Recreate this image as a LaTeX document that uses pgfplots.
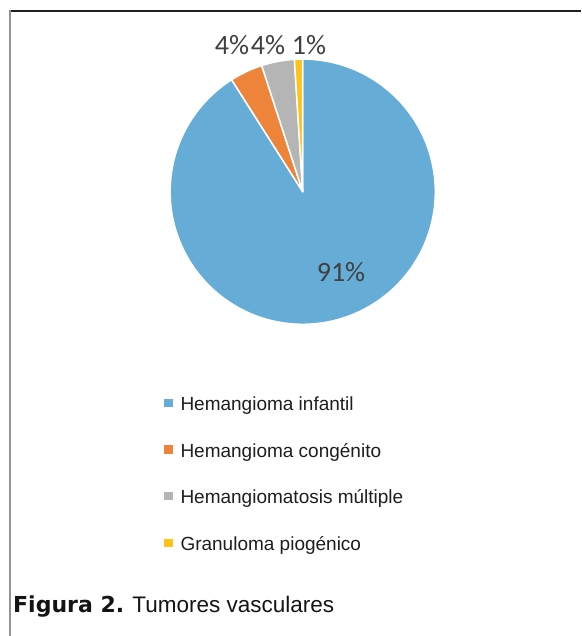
\documentclass[border=0pt]{standalone}
\usepackage{pgfplots}
\pgfplotsset{compat=1.18}
\usepackage{pgfplotstable}
\usepackage{fontspec}
\setmainfont{Liberation Sans}
\newfontfamily\carlito{Carlito}
\newfontfamily\dejavu{DejaVu Sans}
\definecolor{cblue}{HTML}{65ACD7}
\definecolor{corange}{HTML}{EE843A}
\definecolor{cgrey}{HTML}{B5B5B5}
\definecolor{cyellow}{HTML}{FFC21A}
\definecolor{labtxt}{HTML}{404040}
\definecolor{legtxt}{HTML}{1E1E1E}

\pgfplotstableread{
value
91
4
4
1
}\piedata

\begin{document}%
\begin{tikzpicture}[x=1pt,y=1pt]
\pgfplotstablegetelem{0}{value}\of\piedata \let\vA\pgfplotsretval
\pgfplotstablegetelem{1}{value}\of\piedata \let\vB\pgfplotsretval
\pgfplotstablegetelem{2}{value}\of\piedata \let\vC\pgfplotsretval
\pgfplotstablegetelem{3}{value}\of\piedata \let\vD\pgfplotsretval
\pgfmathsetmacro\total{\vA+\vB+\vC+\vD}
\pgfmathsetmacro\cA{\vA/\total}
\pgfmathsetmacro\cB{(\vA+\vB)/\total}
\pgfmathsetmacro\cC{(\vA+\vB+\vC)/\total}
\pgfmathsetmacro\hiA{90}
\pgfmathsetmacro\loA{90-360*\cA}
\pgfmathsetmacro\loB{90-360*\cB}
\pgfmathsetmacro\loC{90-360*\cC}
\pgfmathsetmacro\loD{90-360}
\path[use as bounding box] (0,0) rectangle (581,636);
\draw[color=black!88, line width=1.1pt] (9,625) -- (581,625);
\draw[color=black!42, line width=2pt] (10,625.5) -- (10,0);
\begin{axis}[
  at={(302.7pt,444.3pt)}, anchor=center,
  width=265.2pt, height=265.2pt, scale only axis,
  xmin=-1, xmax=1, ymin=-1, ymax=1,
  hide axis, clip=false,
  legend style={at={(-0.023,-0.2717)}, anchor=north west, draw=none, fill=none,
    inner sep=0pt, outer sep=0pt, row sep=28.7pt, column sep=8pt,
    font=\fontsize{19}{19}\selectfont, text=legtxt,
    cells={anchor=base west},
    nodes={inner sep=0pt, text height=14pt, text depth=4pt}},
  legend image code/.code={\fill[#1,draw=none] (0pt,3.3pt) rectangle (8.5pt,11.8pt);},
]
\addplot[fill=cblue, draw=white, line width=1.5pt, line join=round, domain=\loA:\hiA, samples=200] ({cos(x)},{sin(x)}) -- (axis cs:0,0) -- cycle;
\addlegendentry{Hemangioma infantil}
\addplot[fill=corange, draw=white, line width=1.5pt, line join=round, domain=\loB:\loA, samples=20] ({cos(x)},{sin(x)}) -- (axis cs:0,0) -- cycle;
\addlegendentry{Hemangioma congénito}
\addplot[fill=cgrey, draw=white, line width=1.5pt, line join=round, domain=\loC:\loB, samples=20] ({cos(x)},{sin(x)}) -- (axis cs:0,0) -- cycle;
\addlegendentry{Hemangiomatosis múltiple}
\addplot[fill=cyellow, draw=white, line width=1.5pt, line join=round, domain=\loD:\loC, samples=10] ({cos(x)},{sin(x)}) -- (axis cs:0,0) -- cycle;
\addlegendentry{Granuloma piogénico}
\node[font=\carlito\fontsize{28}{28}\selectfont, text=labtxt, inner sep=0pt] at (axis cs:-0.533,1.106) {4\%};
\node[font=\carlito\fontsize{28}{28}\selectfont, text=labtxt, inner sep=0pt] at (axis cs:-0.262,1.106) {4\%};
\node[font=\carlito\fontsize{28}{28}\selectfont, text=labtxt, inner sep=0pt] at (axis cs:0.048,1.106) {1\%};
\node[font=\carlito\fontsize{28}{28}\selectfont, text=labtxt, inner sep=0pt] at (axis cs:0.289,-0.609) {91\%};
\end{axis}
\node[anchor=base west, inner sep=0pt, text=black!92] at (13,23) {\fontsize{22}{22}\selectfont{\dejavu\bfseries Figura 2.} \fontsize{22.5}{22}\selectfont Tumores vasculares};
\end{tikzpicture}%
\end{document}
